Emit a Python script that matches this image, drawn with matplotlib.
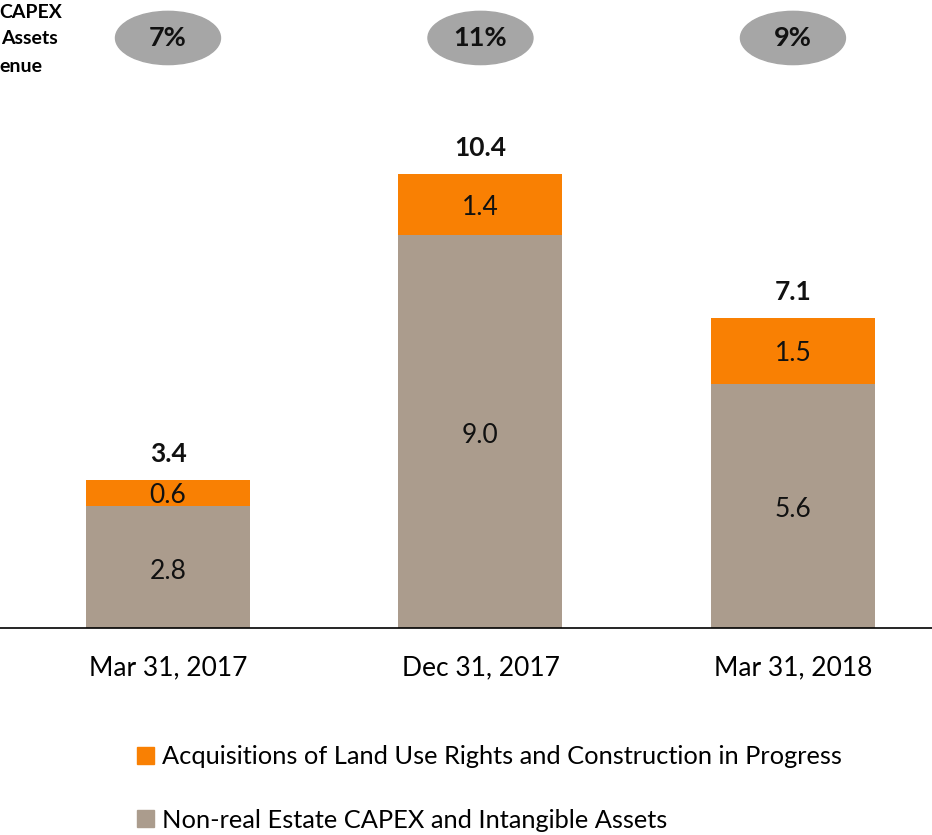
import matplotlib
matplotlib.use('Agg')
import matplotlib.pyplot as plt
from matplotlib.patches import Ellipse, Patch

# data
periods = ['Mar 31, 2017', 'Dec 31, 2017', 'Mar 31, 2018']
non_real_estate = [2.8, 9.0, 5.6]
land_use = [0.6, 1.4, 1.5]
totals = [3.4, 10.4, 7.1]
capex_ratio = ['7%', '11%', '9%']
series_names = ['Acquisitions of Land Use Rights and Construction in Progress',
                'Non-real Estate CAPEX and Intangible Assets']
side_label = ['CAPEX', 'Assets', 'enue']

orange = '#F98003'
tan = '#AB9C8D'
grey = '#A6A6A6'

plt.rcParams['font.family'] = ['Lato', 'DejaVu Sans']

fig = plt.figure(figsize=(9.32, 8.35), dpi=100)
ax = fig.add_axes([0, 0.2479, 1, 0.7521])

x = list(range(len(periods)))
w = 0.525
ax.bar(x, non_real_estate, width=w, color=tan, zorder=2)
ax.bar(x, land_use, width=w, bottom=non_real_estate, color=orange, zorder=2)

for i in x:
    ax.annotate('%.1f' % non_real_estate[i], (i, non_real_estate[i] / 2), xytext=(0, -3),
                textcoords='offset points', ha='center', va='center',
                fontsize=19, color='#111111')
    ax.annotate('%.1f' % land_use[i], (i, non_real_estate[i] + land_use[i] / 2), xytext=(0, -2),
                textcoords='offset points', ha='center', va='center',
                fontsize=19, color='#111111')
    ax.annotate('%.1f' % totals[i], (i, totals[i]), xytext=(0, 10),
                textcoords='offset points', ha='center', va='bottom',
                fontsize=19, fontweight='bold', color='#111111')
    # ratio bubble on top
    ax.add_patch(Ellipse((i, 13.52), 0.336, 1.22, color=grey, clip_on=False, zorder=3))
    ax.text(i, 13.52, capex_ratio[i], ha='center', va='center', fontsize=19.5,
            fontweight='bold', color='#111111', zorder=4)

ax.set_xlim(-0.5376, 2.445)
ax.set_ylim(0, 14.39)
ax.set_xticks(x)
ax.set_xticklabels(periods, fontsize=19)
ax.tick_params(axis='x', length=0, pad=20)
ax.set_yticks([])
for s in ['top', 'right', 'left']:
    ax.spines[s].set_visible(False)
ax.spines['bottom'].set_linewidth(1.2)

# cut-off label at top left
right_edges = [62, 58, 42]
for k, line in enumerate(side_label):
    fig.text(right_edges[k] / 932, 1 - (12 + 27 * k) / 835, line, ha='right', va='center',
             fontsize=14, fontweight='bold')

handles = [Patch(color=orange), Patch(color=tan)]
fig.legend(handles, series_names, loc='upper left', bbox_to_anchor=(137 / 932, 1 - 745 / 835),
           frameon=False, fontsize=18.3, handlelength=0.65, handleheight=0.65,
           handletextpad=0.35, labelspacing=1.6, borderpad=0, borderaxespad=0)

fig.savefig('out.png', dpi=100)
